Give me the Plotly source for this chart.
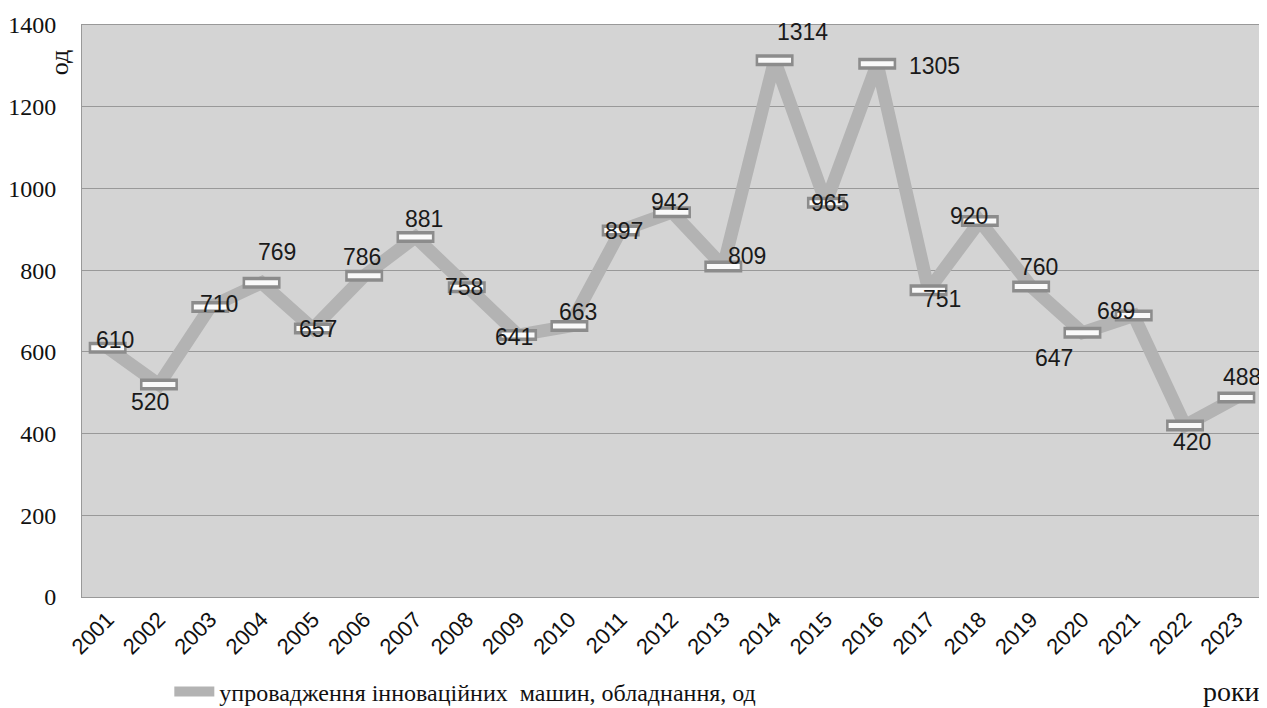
import plotly.graph_objects as go

years = list(range(2001, 2024))
values = [610, 520, 710, 769, 657, 786, 881, 758, 641, 663, 897, 942, 809,
          1314, 965, 1305, 751, 920, 760, 647, 689, 420, 488]
# label offsets in pixels (dx right, dy down) relative to each point
label_dx = [7, -9, 9, 15, 5, -2, 9, -3, -4, 9, 3, -2, 24, 28, 4, 57, 13, -11, 8, -28, -18, 7, 6]
label_dy = [-8, 17, -3, -31, 0, -19, -18, 0, 2, -14, 0, -10, -10, -28, 0, 2, 9, -5, -19, 25, -4, 17, -21]
series_name = "упровадження інноваційних  машин, обладнання, од"

LINE = "#b3b3b3"
SERIF = "Liberation Serif"
SANS = "Liberation Sans"

fig = go.Figure()

# main line
fig.add_trace(go.Scatter(
    x=years, y=values, mode="lines", name=series_name,
    line=dict(color=LINE, width=13),
))

# flat bar markers, drawn as horizontal error bars: grey rim then white face
fig.add_trace(go.Scatter(
    x=years, y=values, mode="markers", marker=dict(size=1, color="rgba(0,0,0,0)"),
    error_x=dict(type="constant", value=0.37, thickness=12, width=0, color="#8c8c8c"),
    showlegend=False, hoverinfo="skip",
))
fig.add_trace(go.Scatter(
    x=years, y=values, mode="markers", marker=dict(size=1, color="rgba(0,0,0,0)"),
    error_x=dict(type="constant", value=0.32, thickness=5, width=0, color="#fafafa"),
    showlegend=False, hoverinfo="skip",
))

annotations = [
    dict(x=yr, y=v, text=str(v), showarrow=False, xshift=dx, yshift=-dy,
         xanchor="center", yanchor="middle",
         font=dict(family=SANS, size=23, color="#1a1a1a"))
    for yr, v, dx, dy in zip(years, values, label_dx, label_dy)
]
annotations += [
    dict(text="од", xref="paper", yref="paper", x=-0.0195, y=0.935,
         xanchor="center", yanchor="middle", showarrow=False, textangle=-90,
         font=dict(family=SERIF, size=26, color="#111")),
    dict(text="роки", xref="paper", yref="paper", x=1.0, xanchor="right",
         y=-0.166, yanchor="middle", showarrow=False,
         font=dict(family=SERIF, size=28, color="#111")),
]

fig.update_layout(
    width=1259, height=700,
    margin=dict(l=74, r=5, t=17, b=111, autoexpand=False),
    paper_bgcolor="white",
    plot_bgcolor="#d4d4d4",
    xaxis=dict(
        range=[2000.5, 2023.5], tickmode="array", tickvals=years,
        ticktext=[str(y) for y in years], tickangle=-45,
        tickfont=dict(family=SANS, size=22, color="#111"),
        showgrid=False, zeroline=False, showline=True, linecolor="#999", mirror=True,
        ticks="", automargin=False,
    ),
    yaxis=dict(
        range=[0, 1400], dtick=200,
        tickfont=dict(family=SERIF, size=24, color="#111"),
        showgrid=True, gridcolor="#999", gridwidth=1,
        zeroline=False, showline=True, linecolor="#999", mirror=True,
        ticks="outside", ticklen=20, tickcolor="rgba(0,0,0,0)", automargin=False,
    ),
    legend=dict(
        orientation="h", x=0.074, xanchor="left", y=-0.166, yanchor="middle",
        font=dict(family=SERIF, size=24, color="#111"),
        bgcolor="rgba(0,0,0,0)", itemwidth=40,
    ),
    annotations=annotations,
    showlegend=True,
)

fig.write_html("out.html")
